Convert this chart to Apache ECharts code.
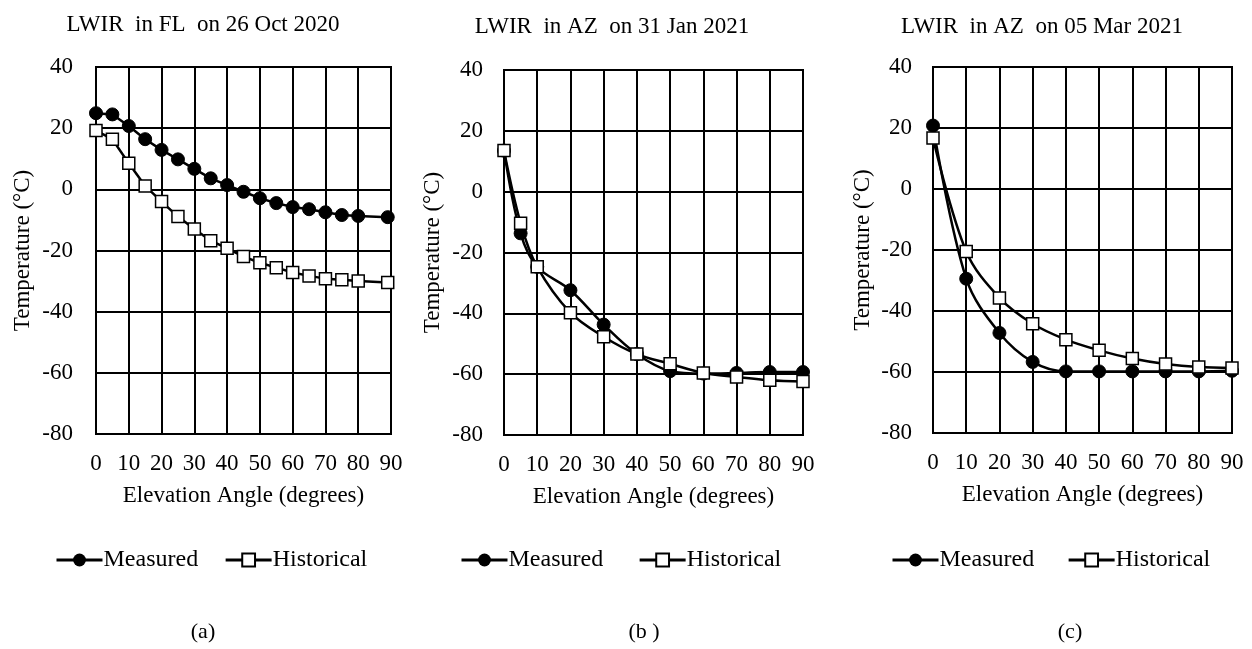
<!DOCTYPE html>
<html>
<head>
<meta charset="utf-8">
<title>LWIR temperature vs elevation angle</title>
<script src="https://cdn.jsdelivr.net/npm/echarts@6/dist/echarts.min.js"></script>
<style>
    html, body { margin: 0; padding: 0; background: #ffffff; }
    #echartsContainer { width: 1252px; height: 649px; }
</style>
</head>
<body>
<div id="echartsContainer"></div>
<script>
// (a) FL, 26 Oct 2020
const anglesFL = [0, 5, 10, 15, 20, 25, 30, 35, 40, 45, 50, 55, 60, 65, 70, 75, 80, 89]
const measuredFL = [24.9, 24.5, 20.7, 16.4, 12.9, 9.8, 6.7, 3.6, 1.4, -0.8, -2.9, -4.5, -5.8, -6.5, -7.5, -8.4, -8.7, -9.1]
const historicalFL = [19.2, 16.4, 8.5, 1.1, -4.0, -8.9, -13.0, -16.8, -19.3, -22.0, -24.0, -25.6, -27.2, -28.3, -29.2, -29.6, -30.0, -30.5]

// (b) AZ, 31 Jan 2021
const anglesJan = [0, 5, 10, 20, 30, 40, 50, 60, 70, 80, 90]
const measuredJan = [13.5, -13.7, -24.7, -32.4, -43.7, -53.4, -59.0, -59.8, -59.6, -59.3, -59.3]
const historicalJan = [13.5, -10.4, -24.7, -39.8, -47.7, -53.4, -56.6, -59.6, -60.9, -62.0, -62.4]

// (c) AZ, 05 Mar 2021
const anglesMar = [0, 10, 20, 30, 40, 50, 60, 70, 80, 90]
const measuredMar = [20.8, -29.4, -47.2, -56.7, -59.8, -59.8, -59.8, -59.8, -59.8, -59.6]
const historicalMar = [16.7, -20.5, -35.7, -44.2, -49.4, -52.9, -55.6, -57.4, -58.4, -58.7]

const xTickValues = [0, 10, 20, 30, 40, 50, 60, 70, 80, 90]
const yTickValues = [-80, -60, -40, -20, 0, 20, 40]

const panelTitles = ['LWIR  in FL  on 26 Oct 2020', 'LWIR  in AZ  on 31 Jan 2021', 'LWIR  in AZ  on 05 Mar 2021']
const panelCaptions = ['(a)', '(b )', '(c)']
const seriesNames = ['Measured', 'Historical']
const xAxisName = 'Elevation Angle (degrees)'
const yAxisName = 'Temperature (°C)'

const panelData = [
    { angles: anglesFL, measured: measuredFL, historical: historicalFL, smooth: false },
    { angles: anglesJan, measured: measuredJan, historical: historicalJan, smooth: true },
    { angles: anglesMar, measured: measuredMar, historical: historicalMar, smooth: true }
]

// layout of each panel, in px
const panelLayout = [
    { left: 96, top: 67, width: 295, height: 367, titleX: 203, titleY: 25, yNameGap: 62, yLabelMargin: 23, legendLeft: 50, legendGap: 26, captionX: 203 },
    { left: 504, top: 70, width: 299, height: 365, titleX: 612, titleY: 27, yNameGap: 60, yLabelMargin: 21, legendLeft: 455, legendGap: 35, captionX: 644 },
    { left: 933, top: 67, width: 299, height: 366, titleX: 1042, titleY: 27, yNameGap: 59, yLabelMargin: 21, legendLeft: 886, legendGap: 33, captionX: 1070 }
]

const fontFamily = '"Liberation Serif", "Times New Roman", serif'
const ink = '#000000'

function zipPoints(xs, ys) {
    return xs.map((x, i) => [x, ys[i]])
}

function createEchartsOption() {
    const grid = []
    const xAxis = []
    const yAxis = []
    const series = []
    const legend = []
    const graphic = []

    panelLayout.forEach((lay, i) => {
        const d = panelData[i]
        grid.push({
            left: lay.left,
            top: lay.top,
            width: lay.width,
            height: lay.height,
            show: true,
            borderColor: ink,
            borderWidth: 2,
            backgroundColor: 'transparent'
        })
        xAxis.push({
            type: 'value',
            gridIndex: i,
            min: xTickValues[0],
            max: xTickValues[xTickValues.length - 1],
            interval: xTickValues[1] - xTickValues[0],
            name: xAxisName,
            nameLocation: 'middle',
            nameGap: 50,
            nameTextStyle: { fontFamily, fontSize: 23, color: ink },
            axisLine: { show: true, lineStyle: { color: ink, width: 2 } },
            axisTick: { show: false },
            axisLabel: { fontFamily, fontSize: 23, color: ink, margin: 18 },
            splitLine: { show: true, lineStyle: { color: ink, width: 2 } }
        })
        yAxis.push({
            type: 'value',
            gridIndex: i,
            min: yTickValues[0],
            max: yTickValues[yTickValues.length - 1],
            interval: yTickValues[1] - yTickValues[0],
            name: yAxisName,
            nameLocation: 'middle',
            nameGap: lay.yNameGap,
            nameTextStyle: { fontFamily, fontSize: 23, color: ink },
            axisLine: { show: true, lineStyle: { color: ink, width: 2 } },
            axisTick: { show: false },
            axisLabel: { fontFamily, fontSize: 23, color: ink, margin: lay.yLabelMargin },
            splitLine: { show: true, lineStyle: { color: ink, width: 2 } }
        })
        series.push({
            name: seriesNames[0],
            type: 'line',
            xAxisIndex: i,
            yAxisIndex: i,
            data: zipPoints(d.angles, d.measured),
            smooth: d.smooth ? 0.35 : false,
            symbol: 'circle',
            symbolSize: 13,
            lineStyle: { color: ink, width: 2.5 },
            itemStyle: { color: ink, borderColor: ink },
            z: 3
        })
        series.push({
            name: seriesNames[1],
            type: 'line',
            xAxisIndex: i,
            yAxisIndex: i,
            data: zipPoints(d.angles, d.historical),
            smooth: d.smooth ? 0.35 : false,
            symbol: 'rect',
            symbolSize: 12,
            lineStyle: { color: ink, width: 2.5 },
            itemStyle: { color: '#ffffff', borderColor: ink, borderWidth: 1.5 },
            z: 4
        })
        legend.push({
            left: lay.legendLeft,
            top: 543,
            orient: 'horizontal',
            data: seriesNames,
            itemWidth: 46,
            itemHeight: 16,
            itemGap: lay.legendGap,
            selectedMode: false,
            lineStyle: { width: 3 },
            textStyle: { fontFamily, fontSize: 24, color: ink, padding: [0, 0, 0, -4] }
        })
        graphic.push({
            type: 'text',
            x: lay.titleX,
            y: lay.titleY,
            style: {
                text: panelTitles[i],
                font: '23px ' + fontFamily,
                fill: ink,
                textAlign: 'center',
                textVerticalAlign: 'middle'
            }
        })
        graphic.push({
            type: 'text',
            x: lay.captionX,
            y: 632,
            style: {
                text: panelCaptions[i],
                font: '22px ' + fontFamily,
                fill: ink,
                textAlign: 'center',
                textVerticalAlign: 'middle'
            }
        })
    })

    return {
        backgroundColor: '#ffffff',
        animation: false,
        grid,
        xAxis,
        yAxis,
        series,
        legend,
        graphic
    }
}

function initEcharts() {
    const chart = echarts.init(document.getElementById('echartsContainer'), null, { renderer: 'canvas' })
    chart.setOption(createEchartsOption())
}

document.addEventListener('DOMContentLoaded', function() {
    initEcharts()
})
</script>
</body>
</html>
